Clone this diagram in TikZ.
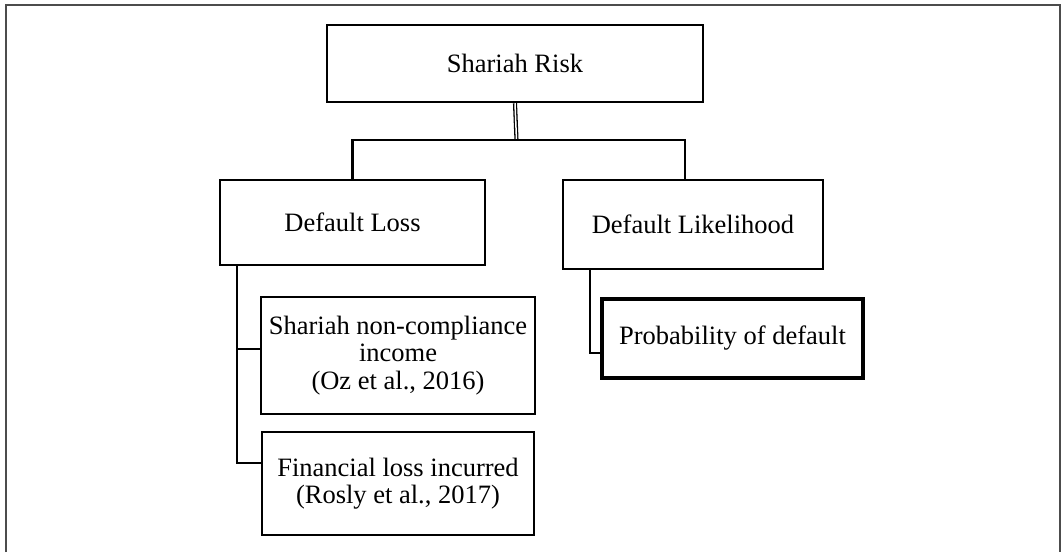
\documentclass[tikz,border=0pt]{standalone}
\usepackage{fontspec}
\setmainfont{Liberation Serif}
\begin{document}
\begin{tikzpicture}[x=1pt,y=-1pt,
  every node/.style={font=\fontsize{26.5pt}{27.5pt}\selectfont},
  box/.style={draw, line width=2.5pt, inner sep=0pt, align=center},
  thickbox/.style={box, line width=4pt},
  conn/.style={line width=2.5pt},
  frameline/.style={line width=2pt, draw=black!70}]
\useasboundingbox (0,0) rectangle (1061,552);
\draw[frameline] (6,552) -- (6,5) -- (1060,5) -- (1060,552);

\node[box, minimum width=376pt, minimum height=77pt] (risk) at (515,63.5) {Shariah Risk};
\node[box, minimum width=265pt, minimum height=85pt] (loss) at (352.5,222.5) {Default Loss};
\node[box, minimum width=260pt, minimum height=89pt] (like) at (693,224.5) {Default Likelihood};
\node[thickbox, minimum width=261pt, minimum height=79pt] (prob) at (732.5,338.5) {Probability of default};
\node[box, minimum width=274pt, minimum height=117pt] (nc) at (398,355.5) {Shariah non-compliance\\income\\(Oz et al., 2016)};
\node[box, minimum width=272pt, minimum height=103pt] (fin) at (398,483.5) {Financial loss incurred\\(Rosly et al., 2017)};

\coordinate (j) at (516.5,140);
\draw[line width=1.3pt, double distance=1.5pt] (risk.south) -- (j);
\draw[conn] (loss.north) |- (j) -| ([xshift=-8pt]like.north);

\coordinate (tr) at ([xshift=-115.5pt]loss.south);
\coordinate (n1) at ([yshift=6.5pt]nc.west);
\coordinate (f1) at ([yshift=20.5pt]fin.west);
\draw[conn] (tr) |- (f1);
\draw[conn] (n1 -| tr) -- (n1);

\coordinate (tl) at ([xshift=-103pt]like.south);
\coordinate (p1) at ([yshift=-14.5pt]prob.west);
\draw[conn] (tl) |- (p1);
\end{tikzpicture}
\end{document}
